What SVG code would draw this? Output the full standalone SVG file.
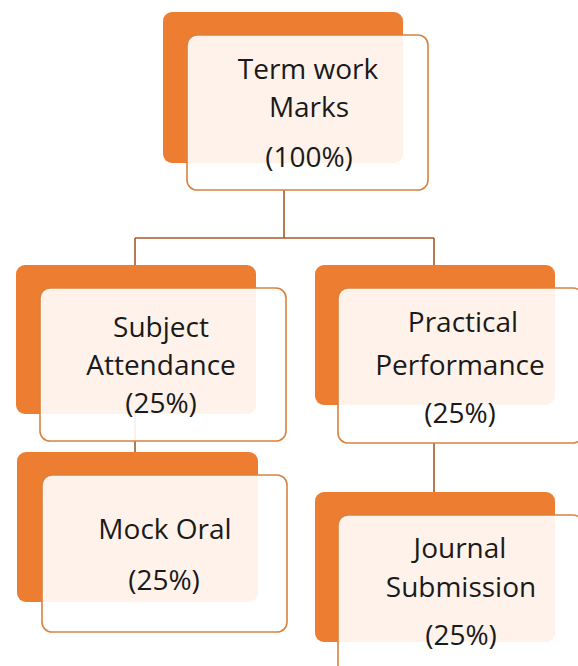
<svg xmlns="http://www.w3.org/2000/svg" width="578" height="666" viewBox="0 0 578 666">
<style>
.back{fill:#ED7D31;}
.front{fill:#FFFFFF;fill-opacity:0.9;stroke:#D9823F;stroke-width:1.6;}
.t{font-family:"Open Sans","Liberation Sans",sans-serif;font-size:28px;fill:#1A1A1A;text-anchor:middle;}
.c{fill:none;stroke:#A65A2A;stroke-width:1.6;}
</style>
<rect width="578" height="666" fill="#FFFFFF"/>
<g id="connectors">
<path class="c" d="M284 190 V238 M135 238 H434 M135 238 V265 M434 238 V265"/>
<path class="c" d="M135 414 V455"/>
<path class="c" d="M434 443 V492"/>
</g>
<g id="term-work">
<rect class="back" x="163" y="12" width="240" height="151" rx="9"/>
<rect class="front" x="187" y="35" width="241" height="155" rx="10"/>
<text class="t" x="308" y="79">Term work</text>
<text class="t" x="309" y="117">Marks</text>
<text class="t" x="309" y="167">(100%)</text>
</g>
<g id="subject-attendance">
<rect class="back" x="16" y="265" width="240" height="149" rx="9"/>
<rect class="front" x="40" y="288" width="246" height="153" rx="10"/>
<text class="t" x="161" y="337">Subject</text>
<text class="t" x="161" y="375">Attendance</text>
<text class="t" x="161" y="413">(25%)</text>
</g>
<g id="practical-performance">
<rect class="back" x="315" y="265" width="240" height="140" rx="9"/>
<rect class="front" x="338" y="288" width="245" height="155" rx="10"/>
<text class="t" x="463" y="332">Practical</text>
<text class="t" x="460" y="375">Performance</text>
<text class="t" x="460" y="423">(25%)</text>
</g>
<g id="mock-oral">
<rect class="back" x="17" y="452" width="241" height="150" rx="9"/>
<rect class="front" x="42" y="475" width="245" height="157" rx="10"/>
<text class="t" x="165" y="539">Mock Oral</text>
<text class="t" x="164" y="590">(25%)</text>
</g>
<g id="journal-submission">
<rect class="back" x="315" y="492" width="240" height="150" rx="9"/>
<rect class="front" x="338" y="515" width="245" height="160" rx="10"/>
<text class="t" x="460" y="558">Journal</text>
<text class="t" x="461" y="597">Submission</text>
<text class="t" x="461" y="645">(25%)</text>
</g>
</svg>
